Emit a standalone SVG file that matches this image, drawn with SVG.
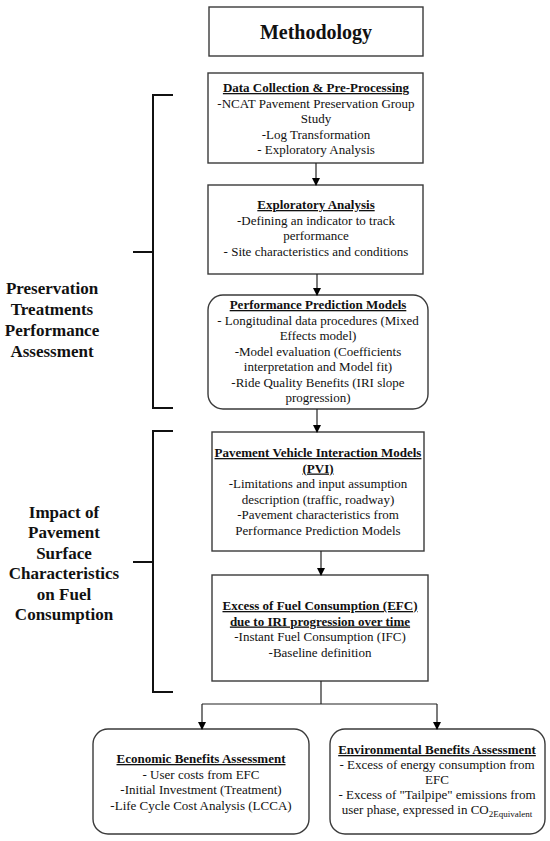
<svg xmlns="http://www.w3.org/2000/svg" width="550" height="841" viewBox="0 0 550 841">
<defs>
<marker id="ah" markerWidth="8" markerHeight="8" refX="7" refY="4" orient="auto" markerUnits="userSpaceOnUse">
<path d="M0,0 L8,4 L0,8 Z" fill="#000"/>
</marker>
<style>
.box{fill:#fff;stroke:#3a3a3a;stroke-width:1.4}
.t{font-family:"Liberation Serif","Times New Roman",serif;font-size:13px;fill:#111;text-anchor:middle}
.h{font-weight:bold;text-decoration:underline}
.side{font-family:"Liberation Serif","Times New Roman",serif;font-size:17px;font-weight:bold;fill:#111;text-anchor:middle}
.c{stroke:#222;stroke-width:1.2;fill:none}
.br{stroke:#111;stroke-width:2;fill:none}
</style>
</defs>
<rect width="550" height="841" fill="#fff"/>

<g id="methodology">
<rect class="box" x="209" y="7" width="214" height="49"/>
<text x="316" y="39" style="font-family:'Liberation Serif','Times New Roman',serif;font-size:20px;font-weight:bold;fill:#111;text-anchor:middle">Methodology</text>
</g>

<g id="data-collection">
<rect class="box" x="208" y="73" width="215" height="90"/>
<text class="t"><tspan class="h" x="316" y="92">Data Collection &amp; Pre-Processing</tspan><tspan x="316" y="107.5">-NCAT Pavement Preservation Group</tspan><tspan x="316" y="123">Study</tspan><tspan x="316" y="138.5">-Log Transformation</tspan><tspan x="316" y="154">- Exploratory Analysis</tspan></text>
</g>

<g id="exploratory">
<rect class="box" x="208" y="185" width="215" height="89"/>
<text class="t"><tspan class="h" x="316" y="209">Exploratory Analysis</tspan><tspan x="316" y="224.5">-Defining an indicator to track</tspan><tspan x="316" y="240">performance</tspan><tspan x="316" y="255.5">- Site characteristics and conditions</tspan></text>
</g>

<g id="performance">
<rect class="box" x="208" y="295" width="220" height="114" rx="15" ry="15"/>
<text class="t"><tspan class="h" x="318" y="309">Performance Prediction Models</tspan><tspan x="318" y="324.5">- Longitudinal data procedures (Mixed</tspan><tspan x="318" y="340">Effects model)</tspan><tspan x="318" y="355.5">-Model evaluation (Coefficients</tspan><tspan x="318" y="371">interpretation and Model fit)</tspan><tspan x="318" y="386.5">-Ride Quality Benefits (IRI slope</tspan><tspan x="318" y="402">progression)</tspan></text>
</g>

<g id="pvi">
<rect class="box" x="212" y="432" width="212" height="119"/>
<text class="t"><tspan class="h" x="318" y="457">Pavement Vehicle Interaction Models</tspan><tspan class="h" x="318" y="472.5">(PVI)</tspan><tspan x="318" y="488">-Limitations and input assumption</tspan><tspan x="318" y="503.5">description (traffic, roadway)</tspan><tspan x="318" y="519">-Pavement characteristics from</tspan><tspan x="318" y="534.5">Performance Prediction Models</tspan></text>
</g>

<g id="efc">
<rect class="box" x="212" y="575" width="216" height="106"/>
<text class="t"><tspan class="h" x="320" y="610">Excess of Fuel Consumption (EFC)</tspan><tspan class="h" x="320" y="625.5">due to IRI progression over time</tspan><tspan x="320" y="641">-Instant Fuel Consumption (IFC)</tspan><tspan x="320" y="656.5">-Baseline definition</tspan></text>
</g>

<g id="economic">
<rect class="box" x="93" y="729" width="216" height="105" rx="15" ry="15"/>
<text class="t"><tspan class="h" x="201" y="763">Economic Benefits Assessment</tspan><tspan x="201" y="778.5">- User costs from EFC</tspan><tspan x="201" y="794">-Initial Investment (Treatment)</tspan><tspan x="201" y="809.5">-Life Cycle Cost Analysis (LCCA)</tspan></text>
</g>

<g id="environmental">
<rect class="box" x="330" y="729" width="215" height="105" rx="15" ry="15"/>
<text class="t"><tspan class="h" x="437" y="754">Environmental Benefits Assessment</tspan><tspan x="437" y="769">- Excess of energy consumption from</tspan><tspan x="437" y="784">EFC</tspan><tspan x="437" y="799">- Excess of "Tailpipe" emissions from</tspan></text>
<text class="t" x="437" y="814">user phase, expressed in CO<tspan style="font-size:9px" dy="3">2Equivalent</tspan></text>
</g>

<g id="label-preservation">
<text class="side"><tspan x="52" y="294">Preservation</tspan><tspan x="52" y="315">Treatments</tspan><tspan x="52" y="336">Performance</tspan><tspan x="52" y="357">Assessment</tspan></text>
</g>

<g id="label-impact">
<text class="side"><tspan x="64" y="518">Impact of</tspan><tspan x="64" y="538">Pavement</tspan><tspan x="64" y="558.5">Surface</tspan><tspan x="64" y="579">Characteristics</tspan><tspan x="64" y="599.5">on Fuel</tspan><tspan x="64" y="620">Consumption</tspan></text>
</g>

<g id="brackets">
<path class="br" d="M173,95 H153 V408 H173 M133,252 H153"/>
<path class="br" d="M173,431 H153 V692 H173 M133,562 H153"/>
</g>

<g id="connectors">
<line class="c" x1="316" y1="163" x2="316" y2="185" marker-end="url(#ah)"/>
<line class="c" x1="317" y1="274" x2="317" y2="295" marker-end="url(#ah)"/>
<line class="c" x1="317" y1="409" x2="317" y2="432" marker-end="url(#ah)"/>
<line class="c" x1="321" y1="551" x2="321" y2="575" marker-end="url(#ah)"/>
<path class="c" d="M321,681 V704"/>
<path class="c" d="M202,704 H437"/>
<line class="c" x1="202" y1="704" x2="202" y2="729" marker-end="url(#ah)"/>
<line class="c" x1="437" y1="704" x2="437" y2="729" marker-end="url(#ah)"/>
</g>
</svg>
